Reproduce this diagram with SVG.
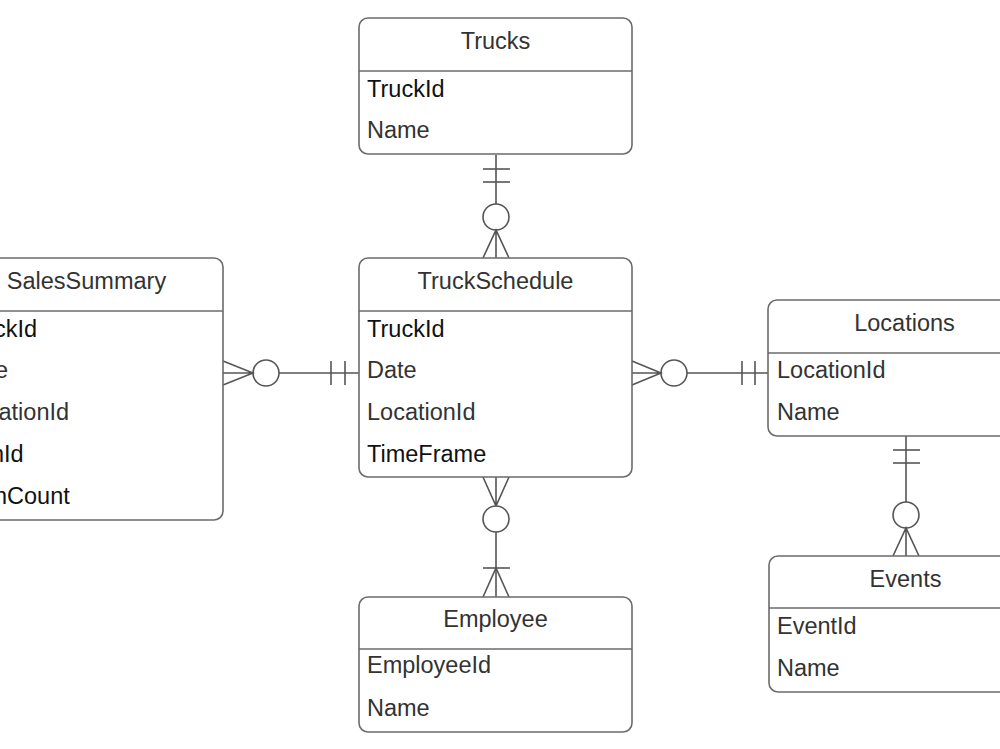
<svg xmlns="http://www.w3.org/2000/svg" width="1000" height="749" viewBox="0 0 1000 749">
<style>
.box{fill:#fff;stroke:#6b6b6b;stroke-width:1.6}
.sep{stroke:#6b6b6b;stroke-width:1.6}
.t{font-family:"Liberation Sans",Arial,sans-serif;font-size:23.5px;fill:#333}
.title{text-anchor:middle}
.k{fill:#111}
.c{fill:none;stroke:#555;stroke-width:1.6}
.o{fill:#fff;stroke:#555;stroke-width:1.6}
</style>
<rect width="1000" height="749" fill="#fff"/>

<g id="connectors">
  <!-- Trucks - TruckSchedule -->
  <line class="c" x1="496" y1="155" x2="496" y2="204"/>
  <line class="c" x1="483" y1="169" x2="510" y2="169"/>
  <line class="c" x1="483" y1="182" x2="510" y2="182"/>
  <circle class="o" cx="496" cy="217" r="13"/>
  <path class="c" d="M483,258 L496,230 L509,258 M496,230 L496,258"/>

  <!-- SalesSummary - TruckSchedule -->
  <line class="c" x1="279" y1="373" x2="359" y2="373"/>
  <line class="c" x1="331" y1="361" x2="331" y2="385"/>
  <line class="c" x1="345" y1="361" x2="345" y2="385"/>
  <circle class="o" cx="266" cy="373" r="13"/>
  <path class="c" d="M223,361 L253,373 L223,385 M223,373 L253,373"/>

  <!-- TruckSchedule - Locations -->
  <line class="c" x1="687" y1="373" x2="768" y2="373"/>
  <line class="c" x1="742" y1="361" x2="742" y2="385"/>
  <line class="c" x1="755" y1="361" x2="755" y2="385"/>
  <circle class="o" cx="674" cy="373" r="13"/>
  <path class="c" d="M632,361 L661,373 L632,385 M632,373 L661,373"/>

  <!-- TruckSchedule - Employee -->
  <path class="c" d="M483,477 L496,506 L509,477 M496,477 L496,506"/>
  <circle class="o" cx="496" cy="519" r="13"/>
  <line class="c" x1="496" y1="532" x2="496" y2="597"/>
  <line class="c" x1="483" y1="568" x2="510" y2="568"/>
  <path class="c" d="M483,597 L496,568 L509,597"/>

  <!-- Locations - Events -->
  <line class="c" x1="906" y1="436" x2="906" y2="502"/>
  <line class="c" x1="893" y1="450" x2="920" y2="450"/>
  <line class="c" x1="893" y1="463" x2="920" y2="463"/>
  <circle class="o" cx="906" cy="515" r="13"/>
  <path class="c" d="M893,556 L906,528 L919,556 M906,528 L906,556"/>
</g>

<g id="trucks">
  <rect class="box" x="359" y="18" width="273" height="136" rx="9"/>
  <line class="sep" x1="359" y1="71" x2="632" y2="71"/>
  <text class="t title" x="495.5" y="49">Trucks</text>
  <text class="t k" x="367" y="97">TruckId</text>
  <text class="t" x="367" y="138">Name</text>
</g>

<g id="truckschedule">
  <rect class="box" x="359" y="258" width="273" height="219" rx="9"/>
  <line class="sep" x1="359" y1="311" x2="632" y2="311"/>
  <text class="t title" x="495.5" y="289">TruckSchedule</text>
  <text class="t k" x="367" y="337">TruckId</text>
  <text class="t" x="367" y="378">Date</text>
  <text class="t" x="367" y="420">LocationId</text>
  <text class="t k" x="367" y="462">TimeFrame</text>
</g>

<g id="salessummary">
  <rect class="box" x="-50" y="258" width="273" height="262" rx="9"/>
  <line class="sep" x1="-50" y1="311" x2="223" y2="311"/>
  <text class="t title" x="86.5" y="289">SalesSummary</text>
  <text class="t k" x="-6" y="337">ckId</text>
  <text class="t" x="-5" y="378">e</text>
  <text class="t" x="-1.5" y="420">ationId</text>
  <text class="t k" x="-9" y="462">nId</text>
  <text class="t k" x="-6" y="504">nCount</text>
</g>

<g id="locations">
  <rect class="box" x="768" y="300" width="273" height="136" rx="9"/>
  <line class="sep" x1="768" y1="353" x2="1041" y2="353"/>
  <text class="t title" x="904.5" y="331">Locations</text>
  <text class="t" x="777" y="378">LocationId</text>
  <text class="t" x="777" y="420">Name</text>
</g>

<g id="employee">
  <rect class="box" x="359" y="597" width="273" height="135" rx="9"/>
  <line class="sep" x1="359" y1="649" x2="632" y2="649"/>
  <text class="t title" x="495.5" y="627">Employee</text>
  <text class="t" x="367" y="673">EmployeeId</text>
  <text class="t" x="367" y="716">Name</text>
</g>

<g id="events">
  <rect class="box" x="769" y="556" width="273" height="136" rx="9"/>
  <line class="sep" x1="769" y1="608" x2="1042" y2="608"/>
  <text class="t title" x="905.5" y="587">Events</text>
  <text class="t" x="777" y="634">EventId</text>
  <text class="t" x="777" y="676">Name</text>
</g>
</svg>
